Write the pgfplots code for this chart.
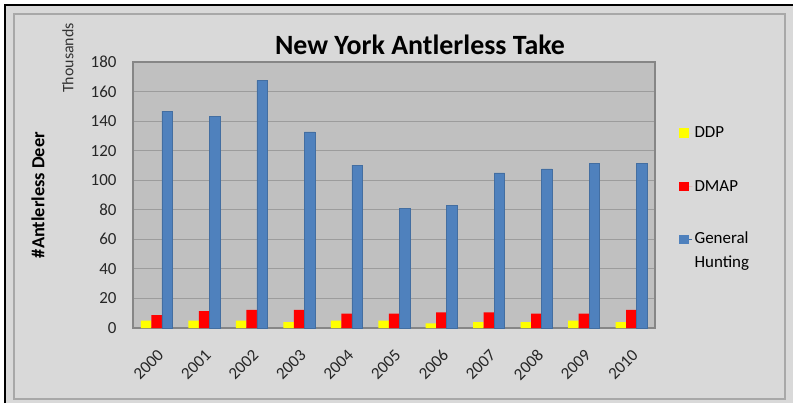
\documentclass[border=0pt]{standalone}
\usepackage{pgfplots}
\pgfplotsset{compat=1.18}
\usepackage{fontspec}
\setmainfont{Carlito}
\definecolor{ddp}{HTML}{FFFF00}
\definecolor{dmap}{HTML}{FF0000}
\definecolor{genhunt}{HTML}{4F81BD}
\definecolor{bggray}{HTML}{D9D9D9}
\definecolor{plotgray}{HTML}{C0C0C0}
\definecolor{gridgray}{HTML}{9C9C9C}
\definecolor{axisgray}{HTML}{868686}
\definecolor{framegray}{HTML}{A8A8A8}

\pgfplotstableread{
x year ddp dmap general
0 2000 5.0 8.8 146.8
1 2001 5.0 11.4 143.0
2 2002 5.0 12.3 167.5
3 2003 4.0 12.3 132.7
4 2004 5.0 9.7 110.2
5 2005 5.0 9.7 81.0
6 2006 3.2 10.6 82.8
7 2007 4.0 10.6 105.0
8 2008 4.0 9.7 107.7
9 2009 5.0 9.7 111.3
10 2010 4.0 12.3 111.3
}\deertable

\pgfplotsset{
  sqlegend/.style={legend image code/.code={%
    \path (0bp,0bp) -- (13bp,0bp);
    \fill[##1,draw=none] (0bp,-4.75bp) rectangle (9.5bp,4.75bp);}},
}

\begin{document}
\begin{tikzpicture}[x=1bp,y=1bp]
\useasboundingbox (0,0) rectangle (793,403);
\fill[white] (0,0) rectangle (793,403);
\fill[bggray] (5,0) rectangle (793,398);
\draw[black,line width=2bp] (5,0) -- (5,398) -- (793,398);
\draw[framegray,line width=1.5bp] (14,4) rectangle (785,389);

\begin{axis}[
  at={(133bp,75bp)}, anchor=south west,
  scale only axis, width=522bp, height=266bp,
  xmin=-0.5, xmax=10.5, ymin=0, ymax=180,
  ytick={0,20,...,180},
  xtick=data,
  xticklabels={2000,2001,2002,2003,2004,2005,2006,2007,2008,2009,2010},
  major tick length=0pt,
  ybar=0pt, bar width=10.5bp,
  axis background/.style={fill=plotgray},
  axis line style={draw=axisgray,line width=1.2bp},
  ymajorgrids, grid style={draw=gridgray,line width=1bp},
  /pgf/number format/assume math mode=true,
  tick label style={font=\fontsize{17}{20}\selectfont, text=black!85},
  yticklabel style={xshift=-13bp},
  xticklabel style={rotate=45, anchor=north east, xshift=-11bp, yshift=-11bp},
  ylabel={\#Antlerless Deer},
  ylabel style={font=\bfseries\fontsize{18.5}{22}\selectfont, at={(axis description cs:-0.182,0.5)}, anchor=center},
  legend style={draw=none, fill=none, font=\fontsize{17}{20}\selectfont,
    at={(1.04,0.772)}, anchor=north west, row sep=37bp},
  legend cell align=left,
]
\addplot[fill=ddp, draw=none, sqlegend] table[x=x,y=ddp] {\deertable};
\addplot[fill=dmap, draw=none, sqlegend] table[x=x,y=dmap] {\deertable};
\addplot[fill=genhunt, draw=genhunt!85!black, line width=0.5bp, sqlegend] table[x=x,y=general] {\deertable};
\legend{DDP,DMAP,{\raisebox{0pt}[10pt][0pt]{\begin{tabular}[t]{@{}l@{}}General\\[4pt]Hunting\end{tabular}}}}
\end{axis}

\node[font=\bfseries\fontsize{28}{32}\selectfont] at (420,358) {New York Antlerless Take};
\node[rotate=90, font=\fontsize{16}{19}\selectfont, text=black!80] at (68,345) {Thousands};
\end{tikzpicture}
\end{document}
